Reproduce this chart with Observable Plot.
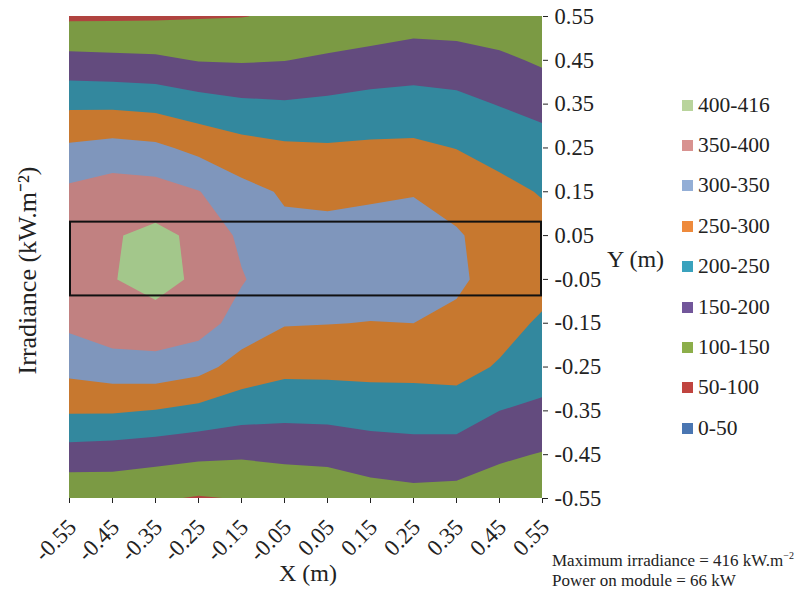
<!DOCTYPE html>
<html>
<head>
<meta charset="utf-8">
<script src="https://cdn.jsdelivr.net/npm/d3@7"></script>
<script src="https://cdn.jsdelivr.net/npm/@observablehq/plot@0.6"></script>
<style>
  html, body { margin: 0; padding: 0; background: #fff; }
  #chart { position: relative; width: 799px; height: 593px; font-family: "Liberation Serif", "Times New Roman", serif; color: #222; }
  #legend { position: absolute; left: 682px; top: 85px; }
  .row { display: flex; align-items: center; height: 40.4px; font-size: 21.5px; }
  .sw { width: 11px; height: 11px; margin-right: 5px; }
  #note { position: absolute; left: 552px; top: 546px; font-size: 17px; line-height: 20px; white-space: nowrap; }
</style>
</head>
<body>
<div id="chart"></div>
<script>
// Grid positions (m)
const xPositions = [-0.55, -0.45, -0.35, -0.25, -0.15, -0.05, 0.05, 0.15, 0.25, 0.35, 0.45, 0.55];
const yPositions = [0.55, 0.45, 0.35, 0.25, 0.15, 0.05, -0.05, -0.15, -0.25, -0.35, -0.45, -0.55];

// Measured irradiance (kW.m-2), one row per Y position (top to bottom), columns follow xPositions
const rowY055 = [92, 93, 94, 97, 99, 105, 108, 115, 125, 122, 117, 110];
const rowY045 = [165, 162, 159, 148, 146, 149, 158, 167, 175, 172, 160, 143];
const rowY035 = [241, 240, 235, 220, 209, 205, 210, 217, 219, 213, 198, 183];
const rowY025 = [308, 317, 310, 287, 268, 258, 255, 258, 259, 249, 235, 222];
const rowY015 = [360, 375, 371, 352, 315, 295, 296, 296, 298, 280, 262, 247];
const rowY005 = [385, 396, 412, 390, 340, 310, 305, 310, 315, 305, 278, 265];
const rowYm005 = [388, 398, 416, 392, 354, 320, 318, 318, 320, 308, 282, 270];
const rowYm015 = [360, 380, 382, 372, 330, 303, 301, 299, 300, 290, 270, 242];
const rowYm025 = [316, 328, 332, 317, 280, 263, 264, 265, 265, 268, 245, 222];
const rowYm035 = [255, 255, 248, 236, 221, 215, 216, 222, 224, 225, 200, 190];
const rowYm045 = [178, 174, 167, 160, 156, 161, 165, 174, 179, 178, 158, 147];
const rowYm055 = [108, 112, 105, 96, 102, 110, 112, 128, 134, 131, 120, 110];

// Irradiance bands
const thresholds = [0, 50, 100, 150, 200, 250, 300, 350, 400];
const bandLabels = ["0-50", "50-100", "100-150", "150-200", "200-250", "250-300", "300-350", "350-400", "400-416"];
const bandFills = ["#40699f", "#b0433f", "#7b9a44", "#634b7e", "#33889e", "#c7782f", "#7f96bc", "#c18181", "#a3c78b"];
const swatchFills = ["#4a76b2", "#c0443f", "#8cae4a", "#72569a", "#3aa2bd", "#ee8a3c", "#93aed6", "#d89290", "#b9d49c"];

// Tick values
const xTicks = [-0.55, -0.45, -0.35, -0.25, -0.15, -0.05, 0.05, 0.15, 0.25, 0.35, 0.45, 0.55];
const yTicks = [0.55, 0.45, 0.35, 0.25, 0.15, 0.05, -0.05, -0.15, -0.25, -0.35, -0.45, -0.55];

// Module outline (m)
const moduleX = [-0.55, 0.55];
const moduleY = [-0.09, 0.083];

const rows = [rowY055, rowY045, rowY035, rowY025, rowY015, rowY005, rowYm005, rowYm015, rowYm025, rowYm035, rowYm045, rowYm055];
const grid = rows.flat();
const step = xPositions[1] - xPositions[0];
const fmt = d => d.toFixed(2);

const plot = Plot.plot({
  width: 799,
  height: 593,
  marginTop: 16,
  marginRight: 257,
  marginBottom: 95,
  marginLeft: 69,
  style: { fontFamily: "'Liberation Serif', 'Times New Roman', serif", fontSize: "22px", color: "#222", background: "transparent" },
  x: { domain: [-0.55, 0.55] },
  y: { domain: [-0.55, 0.55] },
  color: { type: "threshold", domain: thresholds.slice(1), range: bandFills },
  marks: [
    Plot.contour(grid, {
      width: xPositions.length,
      height: yPositions.length,
      x1: xPositions[0] - step / 2,
      x2: xPositions[xPositions.length - 1] + step / 2,
      y1: yPositions[0] + step / 2,
      y2: yPositions[yPositions.length - 1] - step / 2,
      thresholds,
      fill: Plot.identity,
      clip: true
    }),
    Plot.rect([0], {
      x1: () => moduleX[0], x2: () => moduleX[1],
      y1: () => moduleY[0], y2: () => moduleY[1],
      fill: "none", stroke: "#111", strokeWidth: 2, inset: 1
    }),
    // tick marks, then the rotated tick labels
    Plot.axisX({ ticks: xTicks, tickFormat: () => "", tickSize: 5, label: null }),
    Plot.axisX({ ticks: xTicks, tickFormat: fmt, tickSize: 0, tickPadding: 17, tickRotate: -45, dx: 3, dy: 8, fontSize: 23, label: null }),
    Plot.axisY({ anchor: "right", ticks: yTicks, tickFormat: fmt, tickSize: 5, tickPadding: 7, fontSize: 22.5, label: null }),
    Plot.text(["X (m)"], { frameAnchor: "bottom", textAnchor: "middle", dx: 2, dy: 82, fontSize: 24 }),
    Plot.text(["Y (m)"], { frameAnchor: "right", textAnchor: "middle", dx: 93, dy: 2, fontSize: 24 }),
    Plot.text(["Irradiance (kW.m⁻²)"], { frameAnchor: "left", textAnchor: "middle", dx: -42, dy: 13, rotate: -90, fontSize: 26 })
  ]
});

const chart = document.getElementById("chart");
chart.appendChild(plot);

// Legend, highest band first
const legend = document.createElement("div");
legend.id = "legend";
for (let i = bandLabels.length - 1; i >= 0; --i) {
  const row = document.createElement("div");
  row.className = "row";
  const sw = document.createElement("div");
  sw.className = "sw";
  sw.style.background = swatchFills[i];
  const label = document.createElement("span");
  label.textContent = bandLabels[i];
  row.append(sw, label);
  legend.appendChild(row);
}
chart.appendChild(legend);

const note = document.createElement("div");
note.id = "note";
note.innerHTML = "Maximum irradiance = " + d3.max(grid) + " kW.m<sup style='font-size:10px'>−2</sup><br>Power on module = 66 kW";
chart.appendChild(note);
</script>
</body>
</html>
